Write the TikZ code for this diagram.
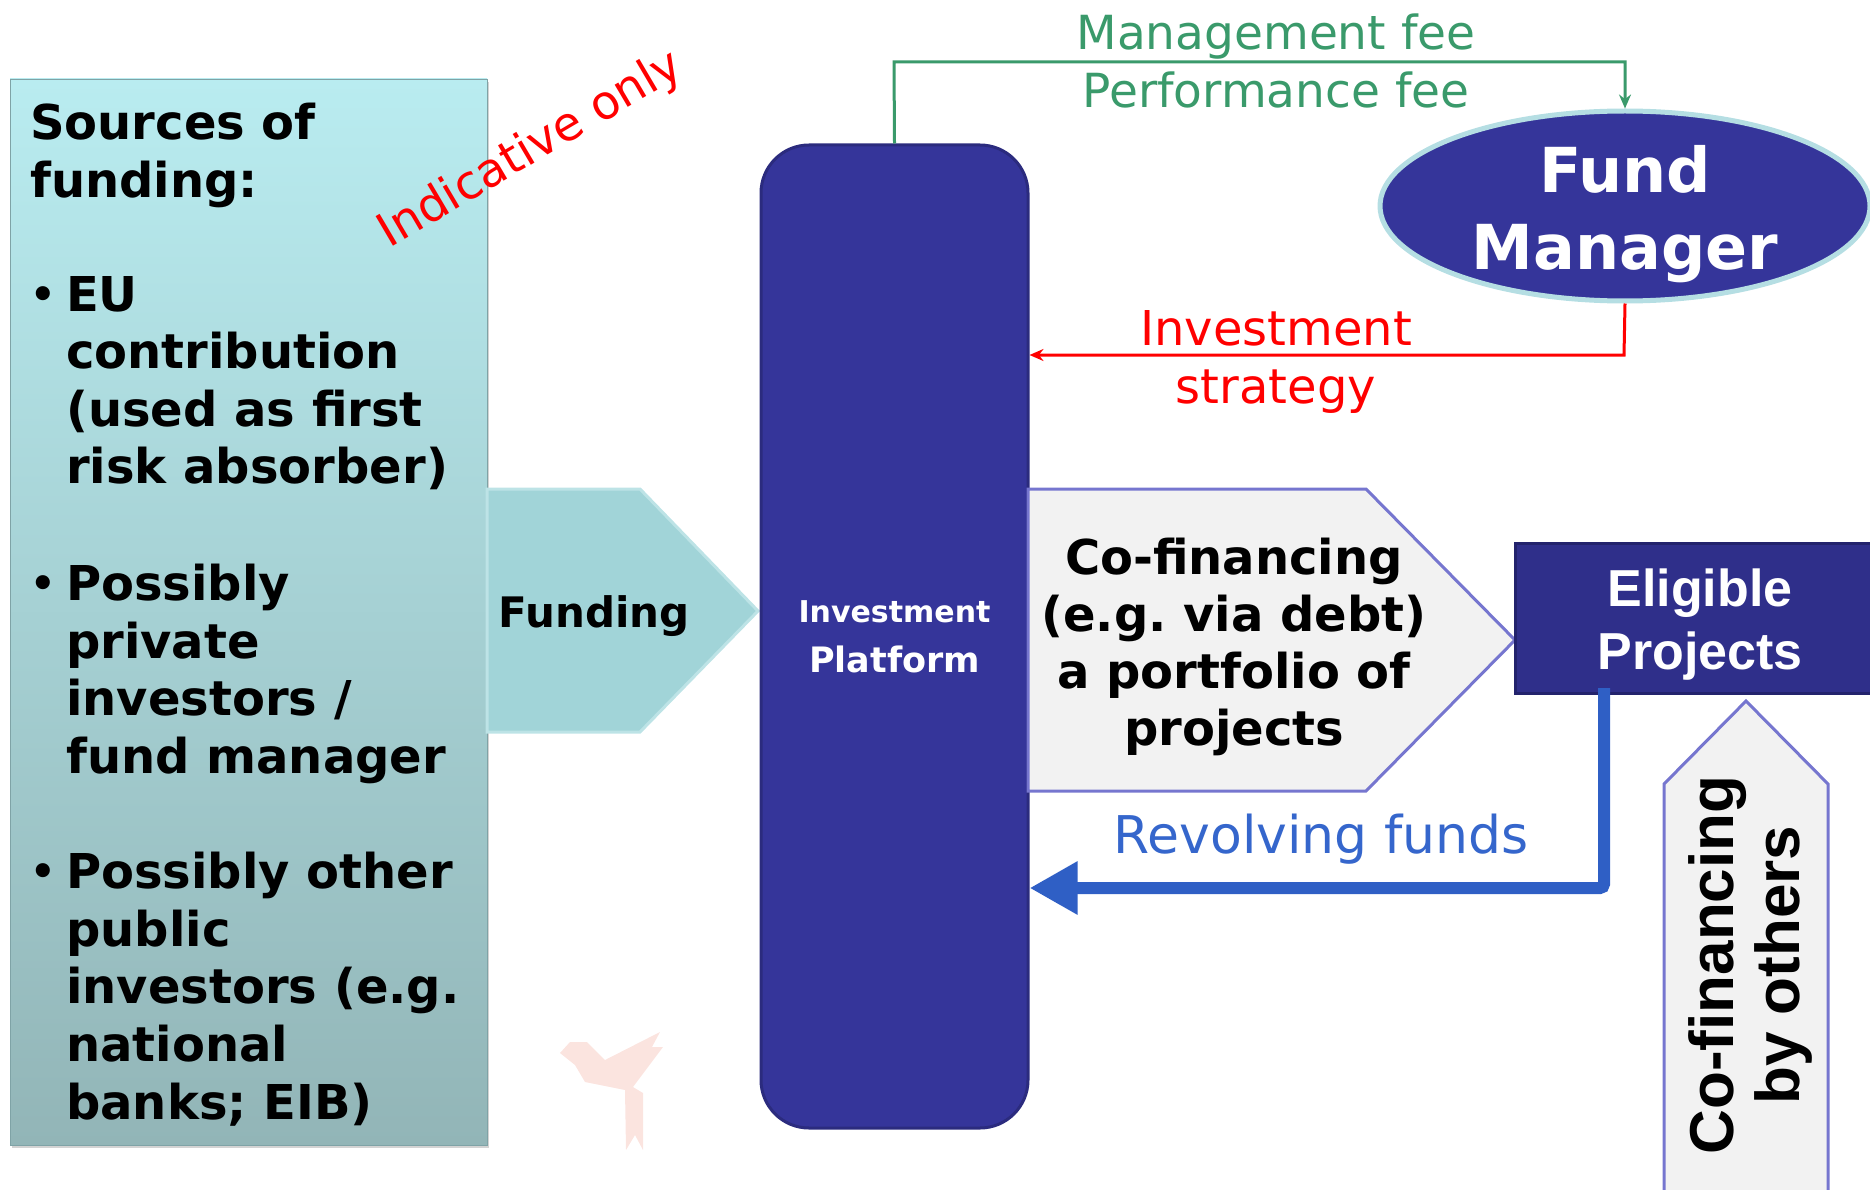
\documentclass[tikz,border=0pt]{standalone}
\usepackage{fontspec}
\setmainfont{DejaVu Sans}
\newfontfamily\arialfont{Liberation Sans}
\usepackage{tikz}
\usetikzlibrary{shapes.geometric,arrows.meta,shadows}
\frenchspacing

\definecolor{srctop}{HTML}{B9ECF0}
\definecolor{srcbot}{HTML}{92B5B7}
\definecolor{srcline}{HTML}{7FA3A6}
\definecolor{fundfill}{HTML}{A1D4D8}
\definecolor{fundline}{HTML}{BDE3E6}
\definecolor{platfill}{HTML}{35359A}
\definecolor{platline}{HTML}{2B2B7E}
\definecolor{cofill}{HTML}{F2F2F2}
\definecolor{coline}{HTML}{7676CF}
\definecolor{mgrline}{HTML}{B5DEE3}
\definecolor{eligfill}{HTML}{2F2F8A}
\definecolor{eligline}{HTML}{23236C}
\definecolor{feegreen}{HTML}{3A9A6B}
\definecolor{revblue}{HTML}{2F5FC5}
\definecolor{revtext}{HTML}{3566CC}
\definecolor{birdpink}{HTML}{F8D2CA}

\newcommand{\Bul}{\makebox[36pt][l]{\fontsize{40}{40}\selectfont\raisebox{3pt}{\textbullet}}}
\newcommand{\Ind}{\hspace*{36pt}}

\begin{document}
\begin{tikzpicture}[x=1pt,y=-1pt,
    boldtext/.style={font=\fontsize{48}{57}\selectfont\bfseries},
    srctext/.style={font=\fontsize{48}{57.6}\selectfont\bfseries,align=left,anchor=north west,inner sep=0},
    feetext/.style={font=\fontsize{47}{58}\selectfont},
    arrowbox/.style={fill=cofill,draw=coline,line width=3pt,line join=miter}]
    \useasboundingbox (0,0) rectangle (1870,1190);
    % sources of funding
    \node[shape=rectangle,draw=srcline,top color=srctop,bottom color=srcbot,
        minimum width=477,minimum height=1066,inner sep=0,
        drop shadow={opacity=0.35,shadow xshift=2pt,shadow yshift=-3pt}] (S) at (248.5,612) {};
    \node[srctext] (T) at (30,103) {Sources of\\funding:};
    \node[srctext] (T1) at (30,276) {\Bul EU\\\Ind contribution\\\Ind (used as first\\\Ind risk absorber)};
    \node[srctext] (T2) at (30,564) {\Bul Possibly\\\Ind private\\\Ind investors /\\\Ind fund manager};
    \node[srctext] (T3) at (30,852) {\Bul Possibly other\\\Ind public\\\Ind investors (e.g.\\\Ind national\\\Ind banks; EIB)};
    \node[text=red,font=\fontsize{47}{47}\selectfont,rotate=30.5] (I) at (531,150) {Indicative only};
    % watermark
    \fill[birdpink,opacity=0.6] (560,1053) -- (570,1042) -- (587,1042) -- (605,1060) -- (660,1032)
        -- (652,1047) -- (663,1047) -- (633,1087) -- (643,1093) -- (643,1150) -- (635,1135)
        -- (626,1150) -- (625,1090) -- (585,1082) -- (575,1065) -- cycle;
    % funding arrow
    \draw[fill=fundfill,draw=fundline,line width=3pt] (487,489) -- (640,489) -- (758,611) -- (640,732) -- (487,732) -- cycle;
    \node[font=\fontsize{42}{50}\selectfont\bfseries] (F) at (594,616) {Funding};
    % investment platform
    \node[shape=rectangle,rounded corners=48,draw=platline,fill=platfill,line width=3pt,
        minimum width=267,minimum height=983,inner sep=0,text=white,align=center,font=\bfseries] (P) at (894.5,636.5)
        {{\fontsize{30}{36}\selectfont Investment}\\[22pt]{\fontsize{35}{42}\selectfont Platform}};
    % co-financing arrow
    \draw[arrowbox] (1028,489) -- (1366,489) -- (1515,640) -- (1366,791) -- (1028,791) -- cycle;
    \node[boldtext,align=center] (C) at (1234,647) {Co-financing\\(e.g. via debt)\\a portfolio of\\projects};
    % fund manager
    \node[shape=ellipse,draw=mgrline,fill=platfill,line width=5pt,minimum width=490,minimum height=190,
        inner sep=0] (M) at (1625,206) {};
    \node[text=white,align=center,font=\fontsize{62}{77}\selectfont\bfseries] (MT) at (1625,214) {Fund\\Manager};
    % eligible projects
    \node[shape=rectangle,draw=eligline,fill=eligfill,line width=3pt,minimum width=370,minimum height=150,
        inner sep=0] (E) at (1700,618) {};
    \node[text=white,align=center,font=\arialfont\fontsize{52}{63}\selectfont\bfseries] (ET) at (1700,625) {Eligible\\Projects};
    % co-financing by others
    \draw[arrowbox] (1664,1200) -- (1664,784) -- (1746,701) -- (1828,784) -- (1828,1200);
    \node[rotate=90,align=center,font=\arialfont\fontsize{62}{66}\selectfont\bfseries] (O) at (1750,965) {Co-financing\\by others};
    % connectors
    \coordinate (G) at (894,62);
    \draw[feegreen,line width=3pt,-{Stealth[length=14pt,width=12pt]}] (P.north) -- (G) -| (M.north);
    \node[feetext,text=feegreen,align=center] (L) at (1276,61) {Management fee\\Performance fee};
    \coordinate (R) at (1624,355);
    \draw[red,line width=3pt,-{Stealth[length=14pt,width=12pt]}] (M.south) -- (R) -- (P.east |- R);
    \node[text=red,font=\fontsize{48}{58}\selectfont,align=center] (V) at (1276,362) {Investment\\strategy};
    \coordinate (B) at (1604,888);
    \draw[revblue,line width=12pt,rounded corners=4,-{Triangle[length=48pt,width=50pt]}] (1604,688) -- (B) -- (P.east |- B);
    \node[text=revtext,font=\fontsize{52}{60}\selectfont] (W) at (1321,839) {Revolving funds};
\end{tikzpicture}
\end{document}
